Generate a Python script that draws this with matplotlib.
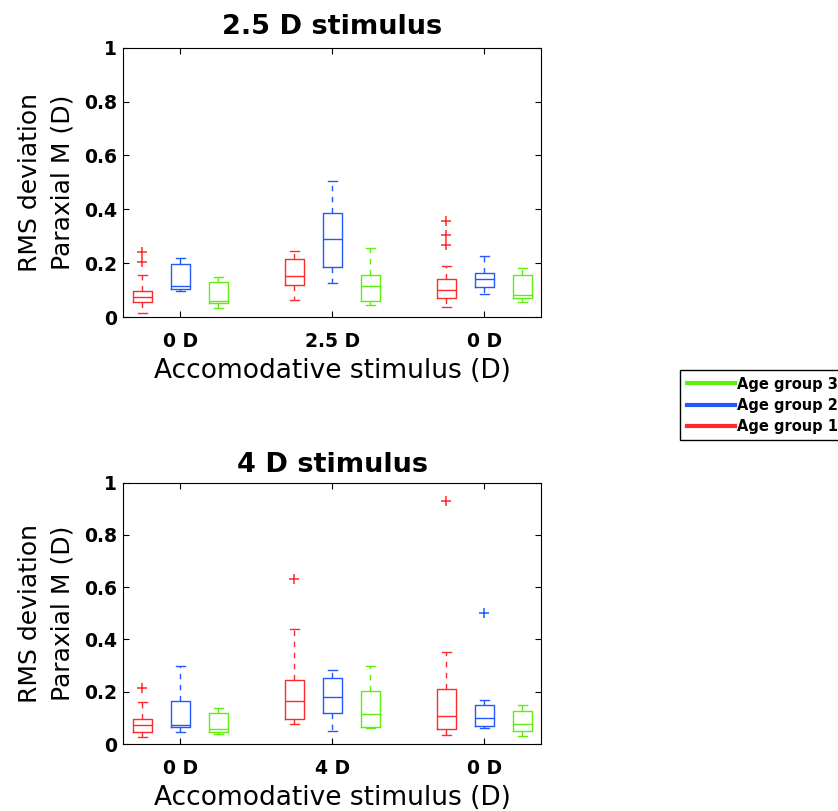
import matplotlib
matplotlib.use("Agg")
import matplotlib.pyplot as plt
from matplotlib.lines import Line2D

plt.rcParams["font.family"] = "DejaVu Sans"

# box order in every panel: (age 1, age 2, age 3) for each stimulus condition
group_names = ["Age group 1", "Age group 2", "Age group 3"]
group_colors = ["#ff2a2a", "#2458ff", "#5fee10"]
ytick_vals = [0, 0.2, 0.4, 0.6, 0.8, 1]
ytick_labels = ["0", "0.2", "0.4", "0.6", "0.8", "1"]

# 2.5 D stimulus
top_ticks = ["0 D", "2.5 D", "0 D"]
top_med = [0.075, 0.114, 0.058, 0.151, 0.288, 0.114, 0.100, 0.141, 0.080]
top_q1 = [0.055, 0.104, 0.052, 0.120, 0.185, 0.058, 0.070, 0.112, 0.070]
top_q3 = [0.095, 0.197, 0.130, 0.217, 0.387, 0.155, 0.142, 0.162, 0.157]
top_lo = [0.015, 0.095, 0.034, 0.064, 0.125, 0.044, 0.037, 0.084, 0.054]
top_hi = [0.156, 0.219, 0.149, 0.245, 0.504, 0.257, 0.191, 0.226, 0.182]
top_out = [[0.242, 0.204], [], [], [], [], [], [0.355, 0.303, 0.268], [], []]

# 4 D stimulus
bot_ticks = ["0 D", "4 D", "0 D"]
bot_med = [0.071, 0.074, 0.056, 0.163, 0.180, 0.115, 0.107, 0.099, 0.078]
bot_q1 = [0.046, 0.064, 0.045, 0.097, 0.120, 0.064, 0.056, 0.070, 0.050]
bot_q3 = [0.094, 0.166, 0.120, 0.245, 0.252, 0.203, 0.209, 0.149, 0.127]
bot_lo = [0.027, 0.046, 0.037, 0.075, 0.051, 0.061, 0.036, 0.061, 0.029]
bot_hi = [0.162, 0.297, 0.138, 0.442, 0.283, 0.300, 0.351, 0.167, 0.149]
bot_out = [[0.214], [], [], [0.632], [], [], [0.930], [0.501], []]


def draw_panel(ax, title, ticks, med, q1, q3, lo, hi, out, title_pad):
    n_groups = len(group_names)
    for i in range(len(med)):
        cond, g = divmod(i, n_groups)
        pos = cond * (n_groups + 1) + g + 1
        c = group_colors[g]
        stats = dict(med=med[i], q1=q1[i], q3=q3[i], whislo=lo[i], whishi=hi[i], fliers=out[i])
        ax.bxp([stats], positions=[pos], widths=0.5, capwidths=0.25, manage_ticks=False,
               boxprops=dict(color=c, lw=1.0),
               medianprops=dict(color=c, lw=1.0),
               whiskerprops=dict(color=c, lw=1.0, linestyle=(0, (4, 4))),
               capprops=dict(color=c, lw=1.0),
               flierprops=dict(marker="+", markeredgecolor=c, markersize=7,
                               markeredgewidth=1.1, linestyle="none"))
    ax.set_xlim(0.5, 11.5)
    ax.set_ylim(0, 1)
    ax.set_xticks([2, 6, 10])
    ax.set_xticklabels(ticks, fontsize=13.5, fontweight="bold")
    ax.set_yticks(ytick_vals)
    ax.set_yticklabels(ytick_labels, fontsize=13.5, fontweight="bold")
    ax.tick_params(axis="both", direction="in", top=True, right=True, length=4, width=0.8)
    ax.tick_params(axis="x", pad=11)
    ax.tick_params(axis="y", pad=4.5)
    for sp in ax.spines.values():
        sp.set_linewidth(0.8)
    ax.set_title(title, fontsize=19.5, fontweight="bold", pad=title_pad)
    ax.set_xlabel("Accomodative stimulus (D)", fontsize=19, labelpad=4.5)
    ax.set_ylabel("RMS deviation\nParaxial M (D)", fontsize=18, linespacing=1.45, labelpad=7)


fig = plt.figure(figsize=(8.38, 8.11), dpi=100)
ax_top = fig.add_axes([0.1471, 0.6091, 0.4990, 0.3321])
ax_bot = fig.add_axes([0.1471, 0.0826, 0.4990, 0.3222])

draw_panel(ax_top, "2.5 D stimulus", top_ticks, top_med, top_q1, top_q3, top_lo, top_hi, top_out, 10)
draw_panel(ax_bot, "4 D stimulus", bot_ticks, bot_med, bot_q1, bot_q3, bot_lo, bot_hi, bot_out, 8)

handles = [Line2D([], [], color=group_colors[g], lw=3) for g in range(3)][::-1]
fig.legend(handles, group_names[::-1], loc="upper left",
           bbox_to_anchor=(680 / 838, 1 - 370 / 811),
           prop=dict(size=10.5, weight="bold"), frameon=True, fancybox=False,
           edgecolor="black", framealpha=1, handlelength=3.3, handletextpad=0.15,
           labelspacing=0.42, borderpad=0.45, borderaxespad=0)

fig.savefig("out.png", dpi=100)
plt.close(fig)
